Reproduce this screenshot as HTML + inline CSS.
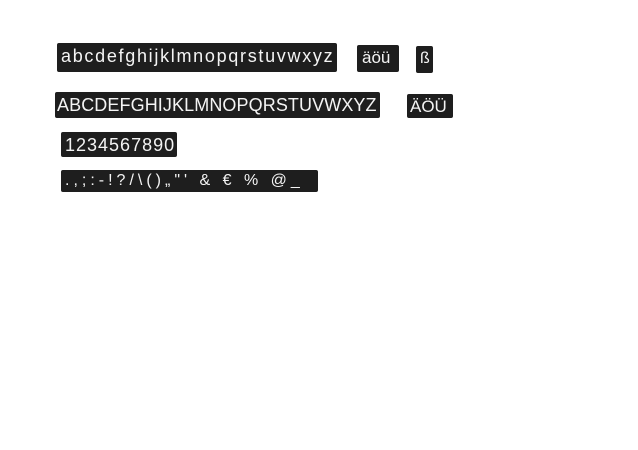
<!DOCTYPE html>
<html><head><meta charset="utf-8"><style>
body{margin:0;width:638px;height:450px;background:#fff;position:relative;overflow:hidden}
.b{position:absolute;background:#1e1e1e;color:#f4f4f4;font-family:"Liberation Sans",sans-serif;white-space:nowrap;overflow:hidden;box-sizing:border-box;padding-left:4px;border-radius:2px}
</style></head><body>
<div class="b" style="left:57px;top:43px;width:280px;height:29px;font-size:18px;line-height:27px;letter-spacing:1.7px">abcdefghijklmnopqrstuvwxyz</div>
<div class="b" style="left:357px;top:45px;width:42px;height:27px;font-size:17px;line-height:25px;padding-left:5px">äöü</div>
<div class="b" style="left:416px;top:46px;width:17px;height:27px;font-size:16px;line-height:26px;padding-left:4px">ß</div>
<div class="b" style="left:55px;top:92px;width:325px;height:26px;font-size:18px;line-height:26px;letter-spacing:0.1px;padding-left:2px">ABCDEFGHIJKLMNOPQRSTUVWXYZ</div>
<div class="b" style="left:407px;top:94px;width:46px;height:24px;font-size:17px;line-height:25px;padding-left:3px">ÄÖÜ</div>
<div class="b" style="left:61px;top:132px;width:116px;height:25px;font-size:18px;line-height:26px;letter-spacing:1px">1234567890</div>
<div class="b" style="left:61px;top:170px;width:257px;height:22px;font-size:16px;line-height:22px;letter-spacing:4px">.,;:-!?/\()„"' &amp; € % @_</div>
</body></html>
